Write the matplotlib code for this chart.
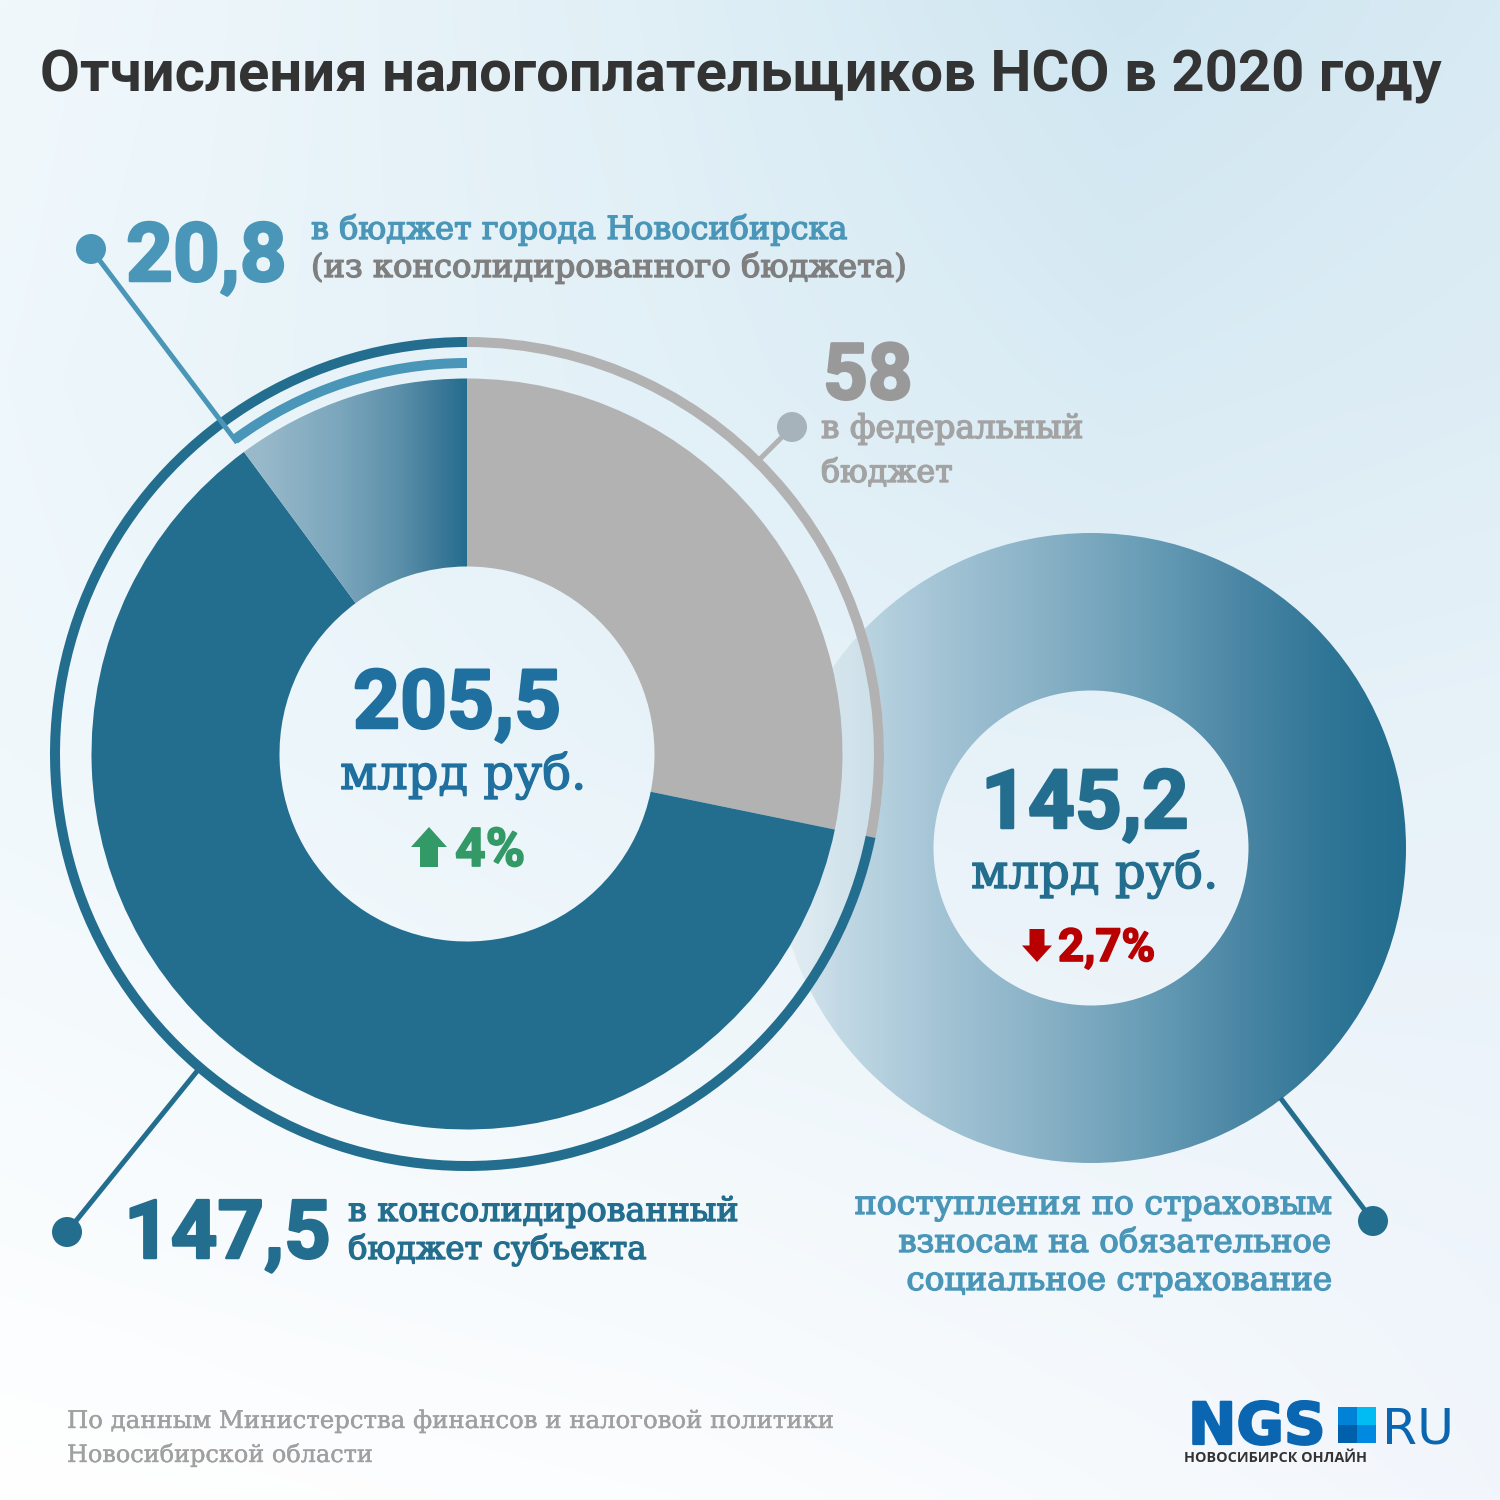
import numpy as np
import matplotlib
matplotlib.use("Agg")
import matplotlib.pyplot as plt
import matplotlib.patheffects as pe
from matplotlib.colors import LinearSegmentedColormap as LSC, to_rgb
from matplotlib.patches import Circle, Polygon, Rectangle

# ---------- data ----------
title = "Отчисления налогоплательщиков НСО в 2020 году"
federal = 58
consolidated = 147.5
city = 20.8
total_main = 205.5
total_social = 145.2
change_main = "4%"
change_social = "2,7%"
unit = "млрд руб."
label_city = ["в бюджет города Новосибирска", "(из консолидированного бюджета)"]
label_fed = ["в федеральный", "бюджет"]
label_cons = ["в консолидированный", "бюджет субъекта"]
label_social = ["поступления по страховым", "взносам на обязательное", "социальное страхование"]
source = ["По данным Министерства финансов и налоговой политики", "Новосибирской области"]

def num(v):
    return str(v).replace(".", ",")

# ---------- style ----------
DARK = "#236d8e"
MID = "#4a96b8"
GREY = "#b2b2b2"
NUMF = "Roboto"
SLAB = "DejaVu Serif"
W = H = 1500

fig = plt.figure(figsize=(15, 15), dpi=100)
ax = fig.add_axes([0, 0, 1, 1])

def Y(y):
    return H - y

# background: control colours on a coarse grid, smoothly interpolated
gx = np.array([0, .45, .75, 1.0])
gy = np.array([0, .25, .5, 1.0])
grid = [["#f1f8fc", "#e0eff6", "#cfe6f1", "#d8eaf4"],
        ["#eef7fb", "#e2f0f7", "#d9ebf4", "#deedf5"],
        ["#f0f8fc", "#e8f3f9", "#e6f1f8", "#e8f2f9"],
        ["#ffffff", "#fcfdfe", "#f7fafd", "#f2f6fc"]]
grid = np.array([[to_rgb(c) for c in row] for row in grid])
xs, ys = np.linspace(0, 1, 128), np.linspace(0, 1, 128)
tmp = np.stack([[np.interp(xs, gx, grid[j, :, k]) for j in range(4)] for k in range(3)], axis=-1)
bg = np.stack([[np.interp(ys, gy, tmp[:, i, k]) for i in range(128)] for k in range(3)], axis=-1).transpose(1, 0, 2)
ax.imshow(bg, extent=(0, W, 0, H), origin="upper", aspect="auto", interpolation="bilinear", zorder=0)

C1 = (467, Y(754))
C2 = (1091, Y(848))
R1, H1 = 375.5, 187.5
R2, H2 = 315, 157.5

def hgrad(x0, x1, y0, y1, stops, clip, z):
    g = np.linspace(0, 1, 512)[None, :]
    cm = LSC.from_list("g", stops)
    im = ax.imshow(g, extent=(x0, x1, y0, y1), cmap=cm, vmin=0, vmax=1, aspect="auto",
                   interpolation="bilinear", zorder=z)
    im.set_clip_path(clip)
    return im

# right donut (social insurance)
w2, _ = ax.pie([total_social], center=C2, radius=R2, colors=["none"], startangle=90,
               wedgeprops=dict(width=R2-H2, linewidth=0))
stops2 = [(0, "#dbe9f0"), (.10, "#c2d9e5"), (.26, "#a3c4d5"), (.40, "#8db4c8"),
          (.58, "#6a9eb7"), (.74, "#4a86a4"), (.88, "#2f7596"), (1, DARK)]
hgrad(C2[0]-R2, C2[0]+R2, C2[1]-R2, C2[1]+R2, stops2, w2[0], 1)

# pale halo inside the outer ring, only over the right donut
halo = Circle(C1, 417, fc="white", alpha=.30, lw=0, zorder=2)
ax.add_patch(halo)
halo.set_clip_path(w2[0])

# main donut
mw, _ = ax.pie([federal, consolidated-city, city], center=C1, radius=R1,
               colors=[GREY, DARK, "none"], startangle=90, counterclock=False,
               wedgeprops=dict(width=R1-H1, linewidth=0, zorder=3))
hgrad(C1[0]-R1, C1[0], C1[1]-R1, C1[1]+R1,
      [(0, "#a5c2d1"), (.45, "#98b9ca"), (.66, "#7ba6bc"), (.82, "#5b8fa9"), (.93, "#3b7897"), (1, DARK)],
      mw[2], 3)

# outer ring
ax.pie([federal, consolidated], center=C1, radius=417, colors=[GREY, DARK], startangle=90,
       counterclock=False, wedgeprops=dict(width=10, linewidth=0, zorder=4))
# inner ring for the city share
ax.pie([city, total_main-city], center=C1, radius=396, colors=[MID, "none"], startangle=90,
       wedgeprops=dict(width=10, linewidth=0, zorder=4))

# limits after pie
ax.set_xlim(0, W)
ax.set_ylim(0, H)
ax.set_aspect("auto")
ax.axis("off")

# leaders
ang = np.deg2rad(city/total_main*360)
tip = (C1[0]-387*np.sin(ang), C1[1]+387*np.cos(ang))
ax.plot([91, tip[0]], [Y(249), tip[1]], color=MID, lw=3.6, zorder=5, solid_capstyle="butt")
ax.add_patch(Circle((91, Y(249)), 15, fc=MID, lw=0, zorder=5))
ax.plot([792, 760], [Y(427), Y(459)], color=GREY, lw=3.6, zorder=1)
ax.add_patch(Circle((792, Y(427)), 15, fc="#a6b3ba", lw=0, zorder=5))
ax.plot([67, 198], [Y(1232), Y(1070)], color=DARK, lw=3.6, zorder=1)
ax.add_patch(Circle((67, Y(1232)), 15, fc=DARK, lw=0, zorder=5))
ax.plot([1373, 1282], [Y(1221), Y(1100)], color=DARK, lw=3.6, zorder=1)
ax.add_patch(Circle((1373, Y(1221)), 15, fc=DARK, lw=0, zorder=5))

# text, fitted to a target pixel width
renderer = fig.canvas.get_renderer()
def put(s, x0, x1, base, color, family=SLAB, weight="normal", size=24, ha="left", stroke=1.0):
    t = ax.text(x0 if ha == "left" else x1, Y(base), s, color=color, family=family, weight=weight,
                fontsize=size, ha=ha, va="baseline", zorder=6)
    t.set_fontsize(size*(x1-x0)/t.get_window_extent(renderer).width)
    if stroke:
        t.set_path_effects([pe.withStroke(linewidth=stroke, foreground=color)])
    return t

B = "bold"
SN = 1.8
put(title, 40, 1443, 91, "#333333", NUMF, "bold", stroke=0)
put(num(city), 126, 287, 281, MID, NUMF, B, stroke=SN)
put(label_city[0], 311, 848, 239, MID)
put(label_city[1], 311, 907, 277, "#7f7f7f")
put(num(federal), 823, 913, 399, "#999999", NUMF, B, stroke=SN)
put(label_fed[0], 821, 1084, 438, "#a3a3a3")
put(label_fed[1], 821, 953, 482, "#a3a3a3")
put(num(total_main), 353, 562, 728, "#1f6f9f", NUMF, B, stroke=SN)
put(unit, 340, 587, 789, "#1f6f9f")
put(change_main, 455, 525, 866, "#339966", NUMF, B, stroke=1.2)
put(num(total_social), 981, 1189, 828, DARK, NUMF, B, stroke=SN)
put(unit, 971, 1219, 888, DARK)
put(change_social, 1058, 1155, 961, "#b80000", NUMF, B, stroke=1.2)
put(num(consolidated), 124, 331, 1258, DARK, NUMF, B, stroke=SN)
put(label_cons[0], 348, 739, 1221, DARK)
put(label_cons[1], 348, 647, 1259, DARK)
put(label_social[0], 853, 1331, 1214, MID, ha="right")
put(label_social[1], 898, 1331, 1252, MID, ha="right")
put(label_social[2], 905, 1331, 1290, MID, ha="right")
put(source[0], 67, 835, 1428, "#a0a0a0", stroke=0.3)
put(source[1], 67, 373, 1462, "#a0a0a0", stroke=0.3)

# change arrows
def arrow(x0, x1, y_tail, y_head, color):
    xm = (x0+x1)/2
    s = (x1-x0)*.25
    yn = y_head + (y_tail-y_head)*.50
    pts = [(x0, yn), (xm, y_head), (x1, yn), (xm+s, yn), (xm+s, y_tail), (xm-s, y_tail), (xm-s, yn)]
    ax.add_patch(Polygon([(a, Y(b)) for a, b in pts], fc=color, lw=0, zorder=6))
arrow(411, 447, 867, 827, "#339966")
arrow(1022, 1052, 929, 962, "#b80000")

# logo
put("NGS", 1188, 1326, 1444, "#0a66b0", "DejaVu Sans", "bold", stroke=1.6)
for (x, y), c in zip([(1338, 1407), (1357, 1407), (1338, 1425), (1357, 1425)],
                     ["#0082d6", "#00bcf2", "#0060ab", "#0089e0"]):
    ax.add_patch(Rectangle((x, Y(y+18)), 18.5, 18, fc=c, lw=0, zorder=6))
put("RU", 1382, 1454, 1443, "#0a66b0", "DejaVu Sans", stroke=0)
put("НОВОСИБИРСК ОНЛАЙН", 1184, 1368, 1462, "#333333", "Open Sans", "bold", stroke=0)

fig.savefig("out.png", dpi=100)
